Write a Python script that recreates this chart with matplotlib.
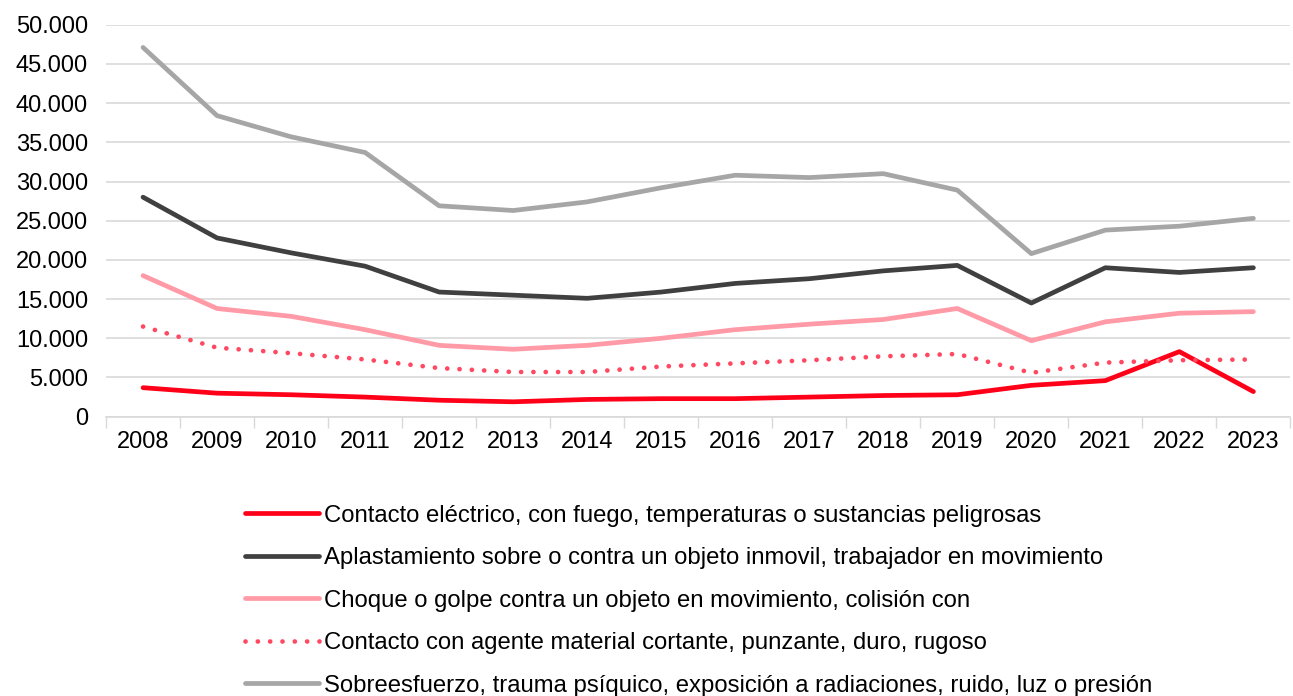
import numpy as np
import matplotlib
matplotlib.use("Agg")
import matplotlib.pyplot as plt
from matplotlib.ticker import FuncFormatter, FixedLocator

plt.rcParams["font.family"] = ["Liberation Sans", "DejaVu Sans"]

years = [str(y) for y in range(2008, 2024)]

electrico = [3700, 3000, 2800, 2500, 2100, 1900, 2200, 2300, 2300, 2500, 2700, 2800, 4000, 4600, 8300, 3200]
aplastamiento = [28000, 22800, 20900, 19200, 15900, 15500, 15100, 15900, 17000, 17600, 18600, 19300, 14500, 19000, 18400, 19000]
choque = [18000, 13800, 12800, 11100, 9100, 8600, 9100, 10000, 11100, 11800, 12400, 13800, 9700, 12100, 13200, 13400]
cortante = [11500, 8800, 8100, 7300, 6200, 5700, 5700, 6400, 6800, 7200, 7700, 8000, 5600, 6900, 7200, 7300]
sobreesfuerzo = [47100, 38400, 35700, 33700, 26900, 26300, 27400, 29200, 30800, 30500, 31000, 28900, 20800, 23800, 24300, 25300]

labels = [
    "Contacto eléctrico, con fuego, temperaturas o sustancias peligrosas",
    "Aplastamiento sobre o contra un objeto inmovil, trabajador en movimiento",
    "Choque o golpe contra un objeto en movimiento, colisión con",
    "Contacto con agente material cortante, punzante, duro, rugoso",
    "Sobreesfuerzo, trauma psíquico, exposición a radiaciones, ruido, luz o presión",
]

fig = plt.figure(figsize=(12.93, 6.96), dpi=100)
ax = fig.add_axes([0.082, 0.4013, 0.916, 0.5632])

x = np.arange(len(years))
lw = 3.4
ax.plot(x, electrico, color="#FF0019", lw=lw, label=labels[0], solid_capstyle="round", zorder=3)
ax.plot(x, aplastamiento, color="#404040", lw=lw, label=labels[1], solid_capstyle="round", zorder=3)
ax.plot(x, choque, color="#FF9AA6", lw=lw, label=labels[2], solid_capstyle="round", zorder=3)
ax.plot(x, cortante, color="#FF4861", lw=3.4, linestyle=(0, (0.01, 2.6)),
        dash_capstyle="round", label=labels[3], zorder=3)
ax.plot(x, sobreesfuerzo, color="#A6A6A6", lw=lw, label=labels[4], solid_capstyle="round", zorder=3)

ax.set_xlim(-0.5, len(years) - 0.5)
ax.set_ylim(0, 50000)
ax.set_yticks(np.arange(0, 50001, 5000))
ax.yaxis.set_major_formatter(FuncFormatter(lambda v, p: f"{int(v):,}".replace(",", ".")))
ax.set_xticks(x)
ax.set_xticklabels(years)
ax.xaxis.set_minor_locator(FixedLocator(np.arange(-0.5, len(years), 1.0)))
ax.tick_params(axis="x", which="major", length=0, pad=10, labelsize=17)
ax.tick_params(axis="x", which="minor", length=8, color="#D9D9D9", width=1)
ax.tick_params(axis="y", length=0, pad=13, labelsize=17)

ax.grid(axis="y", color="#D9D9D9", lw=1.2, zorder=0)
ax.set_axisbelow(True)
for s in ["top", "right", "left"]:
    ax.spines[s].set_visible(False)
ax.spines["bottom"].set_color("#D9D9D9")
ax.spines["bottom"].set_linewidth(1.2)

fig.legend(loc="upper left", bbox_to_anchor=(0.1895, 0.275), frameon=False,
           fontsize=17.2, handlelength=3.1, handletextpad=0.2, labelspacing=0.86,
           borderaxespad=0, borderpad=0)

fig.savefig("out.png", dpi=100)
